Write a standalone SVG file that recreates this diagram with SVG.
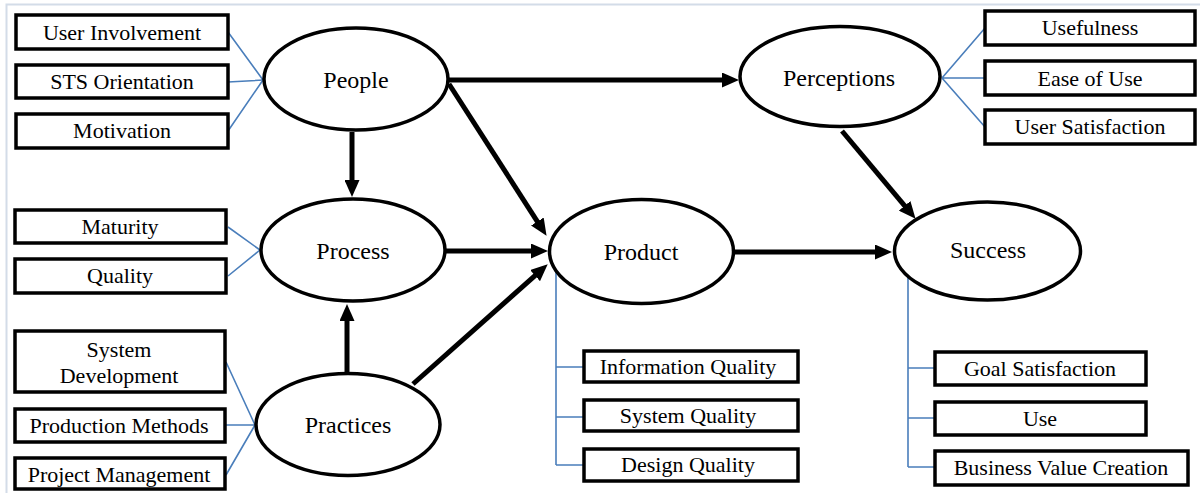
<svg xmlns="http://www.w3.org/2000/svg" width="1200" height="493" viewBox="0 0 1200 493">
<style>
.box{fill:#fff;stroke:#000;stroke-width:3.5}
.ell{fill:#fff;stroke:#000;stroke-width:3.5}
.bt{font-family:"Liberation Serif","Times New Roman",serif;font-size:22px;fill:#000;text-anchor:middle}
.et{font-family:"Liberation Serif","Times New Roman",serif;font-size:24px;fill:#000;text-anchor:middle}
.arr{stroke:#000;stroke-width:5;fill:none;marker-end:url(#ah)}
.ln{stroke:#4a7ebb;stroke-width:1.6;fill:none}
</style>
<defs>
<marker id="ah" markerUnits="userSpaceOnUse" markerWidth="17" markerHeight="15" refX="6" refY="7.5" orient="auto">
<path d="M0,0 L17,7.5 L0,15 z" fill="#000"/>
</marker>
</defs>
<rect width="1200" height="493" fill="#fff"/>
<path d="M6.5,493 V4.5 H1200" fill="none" stroke="#d3dce8" stroke-width="2"/>

<g id="connectors">
<path class="ln" d="M228,32 L263,80 M228,82 L264,80 M228,131 L263,80"/>
<path class="ln" d="M228,227 L260,250 M228,276 L260,250"/>
<path class="ln" d="M226,362 L255,425 M226,425 L255,425 M226,475 L255,425"/>
<path class="ln" d="M942,78 L985,28 M942,78 L985,78 M942,78 L985,127"/>
<path class="ln" d="M556,270 V465 M556,367 H584 M556,417 H584 M556,465 H584"/>
<path class="ln" d="M908,273 V467 M908,368 H935 M908,418 H935 M908,467 H935"/>
<line class="arr" x1="352" y1="132" x2="352" y2="186"/>
<line class="arr" x1="347" y1="372" x2="347" y2="315"/>
<line class="arr" x1="449" y1="84" x2="540.6" y2="226.6"/>
<line class="arr" x1="446" y1="251" x2="537" y2="251"/>
<line class="arr" x1="413" y1="384" x2="539.5" y2="271.6"/>
<line class="arr" x1="449" y1="80" x2="728" y2="80"/>
<line class="arr" x1="842" y1="131" x2="908.5" y2="210.4"/>
<line class="arr" x1="735" y1="252" x2="881" y2="252"/>
</g>

<g id="people"><ellipse class="ell" cx="356" cy="79" rx="92" ry="51"/><text class="et" x="356" y="88">People</text></g>
<g id="process"><ellipse class="ell" cx="353" cy="250" rx="92" ry="51"/><text class="et" x="353" y="259">Process</text></g>
<g id="practices"><ellipse class="ell" cx="348" cy="424.5" rx="92" ry="51"/><text class="et" x="348" y="433">Practices</text></g>
<g id="product"><ellipse class="ell" cx="641.5" cy="251.5" rx="92" ry="52"/><text class="et" x="641" y="260">Product</text></g>
<g id="perceptions"><ellipse class="ell" cx="840" cy="76.5" rx="100" ry="50"/><text class="et" x="839" y="86">Perceptions</text></g>
<g id="success"><ellipse class="ell" cx="987.5" cy="251" rx="93" ry="49"/><text class="et" x="988" y="258">Success</text></g>

<g id="user-involvement"><rect class="box" x="16" y="15" width="212" height="34"/><text class="bt" x="122" y="40">User Involvement</text></g>
<g id="sts-orientation"><rect class="box" x="16" y="65" width="212" height="33"/><text class="bt" x="122" y="89">STS Orientation</text></g>
<g id="motivation"><rect class="box" x="16" y="114" width="212" height="34"/><text class="bt" x="122" y="138">Motivation</text></g>
<g id="maturity"><rect class="box" x="15" y="210" width="211" height="33"/><text class="bt" x="120" y="234">Maturity</text></g>
<g id="quality"><rect class="box" x="15" y="259" width="211" height="34"/><text class="bt" x="120" y="283">Quality</text></g>
<g id="system-development"><rect class="box" x="15" y="331" width="210" height="61"/><text class="bt" x="119" y="357">System</text><text class="bt" x="119" y="383">Development</text></g>
<g id="production-methods"><rect class="box" x="15" y="409" width="210" height="33"/><text class="bt" x="119" y="433">Production Methods</text></g>
<g id="project-management"><rect class="box" x="15" y="458" width="210" height="31"/><text class="bt" x="119" y="482">Project Management</text></g>
<g id="usefulness"><rect class="box" x="985" y="11" width="210" height="34"/><text class="bt" x="1090" y="35">Usefulness</text></g>
<g id="ease-of-use"><rect class="box" x="985" y="61" width="210" height="34"/><text class="bt" x="1090" y="86">Ease of Use</text></g>
<g id="user-satisfaction"><rect class="box" x="985" y="110" width="210" height="34"/><text class="bt" x="1090" y="134">User Satisfaction</text></g>
<g id="information-quality"><rect class="box" x="584" y="351" width="214" height="31"/><text class="bt" x="688" y="374">Information Quality</text></g>
<g id="system-quality"><rect class="box" x="584" y="400" width="214" height="31"/><text class="bt" x="688" y="423">System Quality</text></g>
<g id="design-quality"><rect class="box" x="584" y="449" width="214" height="32"/><text class="bt" x="688" y="472">Design Quality</text></g>
<g id="goal-satisfaction"><rect class="box" x="935" y="352" width="211" height="33"/><text class="bt" x="1040" y="376">Goal Satisfaction</text></g>
<g id="use"><rect class="box" x="935" y="402" width="211" height="33"/><text class="bt" x="1040" y="426">Use</text></g>
<g id="business-value-creation"><rect class="box" x="935" y="451" width="253" height="34"/><text class="bt" x="1061" y="475">Business Value Creation</text></g>
</svg>
